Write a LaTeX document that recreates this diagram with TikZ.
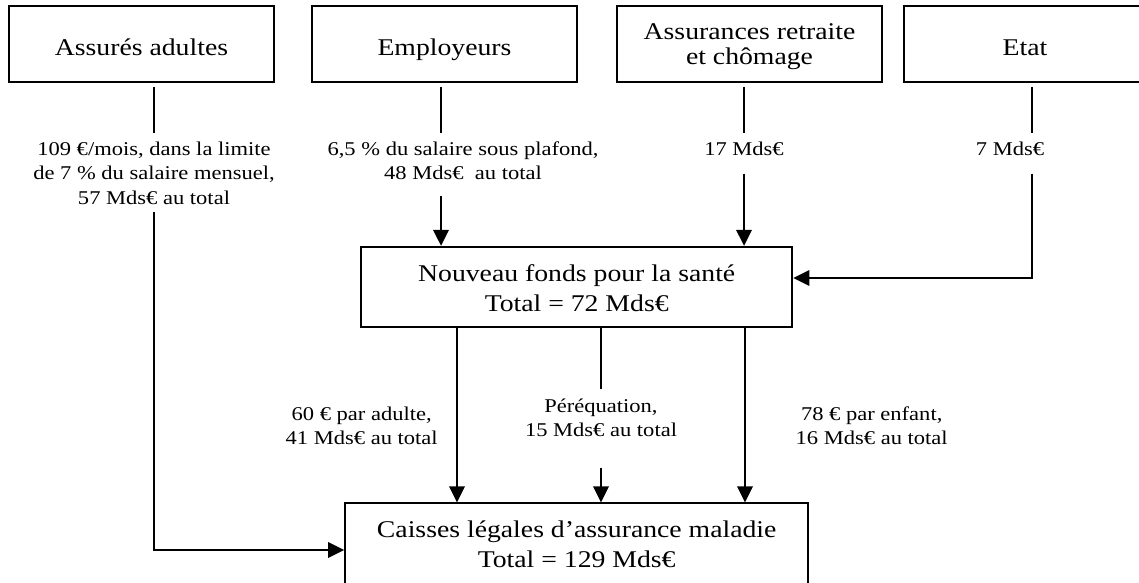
\documentclass[tikz,border=0pt]{standalone}
\usepackage{fontspec}
\setmainfont{Liberation Serif}[FakeStretch=1.155]
\usetikzlibrary{arrows.meta}
\newcommand{\mlines}[1]{\begin{tabular}[t]{@{}c@{}}#1\end{tabular}}
\tikzset{
  box/.style={draw, line width=1.8pt, inner xsep=0pt, inner ysep=0pt, anchor=center,
              font=\fontsize{24}{30}\selectfont},
  lbl/.style={inner sep=0pt, anchor=base, font=\fontsize{19.5}{24.2}\selectfont},
  conn/.style={line width=1.8pt},
  arr/.style={conn, -{Triangle[width=15.5pt,length=16pt]}},
  gapstart/.style={shorten <=4pt}
}
\begin{document}
\begin{tikzpicture}[x=1pt,y=-1pt]
\useasboundingbox (0,0) rectangle (1139,582);
% top boxes
\node[box, minimum width=265pt, text height=49pt, text depth=27pt] (ass) at (141.5,44) {\mlines{Assurés adultes}};
\node[box, minimum width=265pt, text height=49pt, text depth=27pt] (emp) at (444.5,44) {\mlines{Employeurs}};
\node[box, minimum width=265pt, text height=33.3pt, text depth=42.7pt, font=\fontsize{24}{24.7}\selectfont] (ret) at (749.5,44) {\mlines{Assurances retraite\\et chômage}};
\node[box, minimum width=242pt, text height=49pt, text depth=27pt] (etat) at (1025,44) {\mlines{Etat}};
% middle and bottom boxes
\node[box, minimum width=431.3pt, text height=35pt, text depth=45pt] (fonds) at (576.7,286.7) {\mlines{Nouveau fonds pour la santé\\Total = 72 Mds€}};
\node[box, minimum width=463.3pt, text height=34.4pt, text depth=48.3pt] (caisses) at (576.7,544.7) {\mlines{Caisses légales d’assurance maladie\\Total = 129 Mds€}};
% labels
\node[lbl, text height=22.4pt, text depth=56.3pt] (lab1) at (154,155.7) {\mlines{109 €/mois, dans la limite\\de 7 \% du salaire mensuel,\\57 Mds€ au total}};
\node[lbl, text height=21.7pt, text depth=41pt] (lab2) at (463,155) {\mlines{6,5 \% du salaire sous plafond,\\48 Mds€~ au total}};
\node[lbl, text height=22.4pt, text depth=17.6pt] (lab3) at (744,155.7) {\mlines{17 Mds€}};
\node[lbl, text height=22.4pt, text depth=17.6pt] (lab4) at (1010,155.7) {\mlines{7 Mds€}};
\node[lbl] (lab5) at (361.7,420.7) {\mlines{60 € par adulte,\\41 Mds€ au total}};
\node[lbl, text height=23pt, text depth=55pt] (lab6) at (601,412.3) {\mlines{Péréquation,\\15 Mds€ au total}};
\node[lbl] (lab7) at (871.7,420.7) {\mlines{78 € par enfant,\\16 Mds€ au total}};
% column coordinates
\coordinate (c2) at (441,0);
\coordinate (c4) at (1032,0);
\coordinate (c5) at (457,0);
\coordinate (c7) at (745,0);
\coordinate (j1) at (154,550);
\coordinate (j4) at (1032,278);
% connectors
\draw[conn, gapstart] (lab1 |- ass.south) -- (lab1.north);
\draw[arr] (lab1.south) -- (j1) -- (j1 -| caisses.west);
\draw[conn, gapstart] (c2 |- emp.south) -- (c2 |- lab2.north);
\draw[arr] (c2 |- lab2.south) -- (c2 |- fonds.north);
\draw[conn, gapstart] (lab3 |- ret.south) -- (lab3.north);
\draw[arr] (lab3.south) -- (lab3 |- fonds.north);
\draw[conn, gapstart] (c4 |- etat.south) -- (c4 |- lab4.north);
\draw[arr] (c4 |- lab4.south) -- (j4) -- (j4 -| fonds.east);
\draw[arr] (c5 |- fonds.south) -- (c5 |- caisses.north);
\draw[conn] (lab6 |- fonds.south) -- (lab6.north);
\draw[arr] (lab6.south) -- (lab6 |- caisses.north);
\draw[arr] (c7 |- fonds.south) -- (c7 |- caisses.north);
\end{tikzpicture}
\end{document}
